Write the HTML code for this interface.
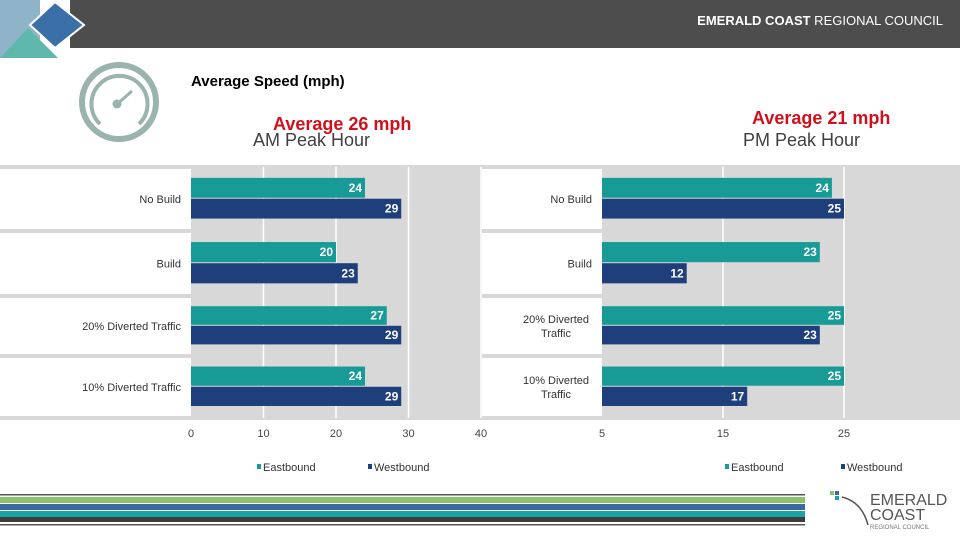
<!DOCTYPE html>
<html><head><meta charset="utf-8"><style>
body{margin:0;width:960px;height:540px;overflow:hidden;background:#fff;font-family:"Liberation Sans",sans-serif}
svg{display:block}
</style></head><body>
<svg id="s" width="960" height="540" xmlns="http://www.w3.org/2000/svg">
<rect x="0" y="0" width="960" height="48" fill="#4d4d4d"/>
<rect x="0" y="0" width="70" height="58" fill="#fff"/>
<rect x="0" y="0" width="40" height="58" fill="#8fb4c9"/>
<polygon points="0,58 28,28 58,58" fill="#5fb8ac"/>
<polygon points="55,2 84,25 55,48 30,25" fill="#3a6fa8" stroke="#fff" stroke-width="2"/>
<text x="943" y="25" text-anchor="end" font-size="13" fill="#fff"><tspan font-weight="bold">EMERALD COAST</tspan> REGIONAL COUNCIL</text>
<g fill="none" stroke="#9ab3ae">
<circle cx="119" cy="102" r="37" stroke-width="6"/>
<path d="M100,124 A28,28 0 1 1 139,124" stroke-width="4"/>
<line x1="115" y1="106" x2="132" y2="91" stroke-width="3"/>
<circle cx="117" cy="104" r="4" fill="#9ab3ae"/>
</g>
<text x="191" y="86" font-size="15" font-weight="bold" fill="#000">Average Speed (mph)</text>
<text x="273" y="130" font-size="18" font-weight="bold" fill="#d0101a">Average 26 mph</text>
<text x="253" y="146" font-size="18" fill="#404040">AM Peak Hour</text>
<text x="752" y="124" font-size="18" font-weight="bold" fill="#d0101a">Average 21 mph</text>
<text x="743" y="146" font-size="18" fill="#404040">PM Peak Hour</text>
<rect x="0" y="165" width="960" height="255" fill="#d8d8d8"/>
<g id="am"></g>
<g id="pm"></g>
<g>
<rect x="0" y="494" width="805" height="1.5" fill="#555"/>
<rect x="0" y="497" width="805" height="6" fill="#8cc06a"/>
<rect x="0" y="504" width="805" height="6" fill="#3b6a9a"/>
<rect x="0" y="511" width="805" height="6" fill="#1aa3a3"/>
<rect x="0" y="517" width="805" height="5" fill="#3d3d3d"/>
<rect x="0" y="524" width="805" height="1.5" fill="#555"/>
</g>
<g>
<rect x="830" y="491" width="4" height="4" fill="#8cc06a"/><rect x="835" y="491" width="4" height="4" fill="#3b6a9a"/><rect x="835" y="496" width="4" height="4" fill="#1aa3a3"/>
<path d="M842,497 Q862,502 868,525" fill="none" stroke="#555" stroke-width="1.5"/>
<text x="870" y="505" font-size="16" fill="#555">EMERALD</text>
<text x="870" y="520" font-size="16" fill="#555">COAST</text>
<text x="870" y="529" font-size="6" fill="#777">REGIONAL COUNCIL</text>
</g>
</svg>
<script>
const categories=["No Build","Build","20% Diverted Traffic","10% Diverted Traffic"];
const pmCategories=[["No Build"],["Build"],["20% Diverted","Traffic"],["10% Diverted","Traffic"]];
const amEast=[24,20,27,24];
const amWest=[29,23,29,29];
const pmEast=[24,23,25,25];
const pmWest=[25,12,23,17];
const amTicks=[0,10,20,30,40];
const pmTicks=[5,15,25];
const NS="http://www.w3.org/2000/svg";
function mk(p,t,a){const e=document.createElementNS(NS,t);for(const k in a)e.setAttribute(k,a[k]);p.appendChild(e);return e;}
function chart(g,labX0,labX1,x0,x1,min,max,ticks,grid,cats,east,west,legX){
  const sx=v=>x0+(v-min)/(max-min)*(x1-x0);
  const rowT=[167,231,296,356],rowB=[231,296,356,418];
  mk(g,'rect',{x:labX0,y:168,width:labX1-labX0,height:249,fill:'#fff'});
  [167,231,296,356,418].forEach(y=>mk(g,'rect',{x:labX0,y:y-2,width:labX1-labX0,height:4,fill:'#d8d8d8'}));
  grid.forEach(v=>{const l=mk(g,'line',{x1:sx(v),x2:sx(v),y1:167,y2:418,stroke:'#fff','stroke-width':1.5});
    
    });
  ticks.forEach(v=>{const t=mk(g,'text',{x:sx(v),y:437,'text-anchor':'middle','font-size':11,fill:'#444'});t.textContent=v;
    
    });
  cats.forEach((c,i)=>{
    const top=rowT[i],h=rowB[i]-rowT[i];
    const yE=top+h*0.17,bh=h*0.31;
    const lines=Array.isArray(c)?c:[c];
    const cy=top+h/2-(lines.length-1)*7+4;
    lines.forEach((ln,j)=>{const t=mk(g,'text',{x:labX1-10,y:cy+j*14,'text-anchor':Array.isArray(c)&&lines.length>1?'middle':'end','font-size':11,fill:'#333'});
      if(lines.length>1)t.setAttribute('x',labX1-46);
      t.textContent=ln;
      
      });
    [[east[i],'#189b96',yE],[west[i],'#1f3f7c',yE+bh+1]].forEach(([v,col,y])=>{
      const r=mk(g,'rect',{x:x0,y:y,width:sx(v)-x0,height:bh,fill:col});
      
      
      const t=mk(g,'text',{x:sx(v)-3,y:y+bh/2+4,'text-anchor':'end','font-size':12,'font-weight':'bold',fill:'#fff'});t.textContent=v;
      
      
    });
  });
  [['Eastbound','#189b96',legX[0]],['Westbound','#1f3f7c',legX[1]]].forEach(([n,col,x])=>{
    const lg=mk(g,'g',{});
    
    
    mk(lg,'rect',{x:x,y:464,width:4,height:5,fill:col});
    const t=mk(lg,'text',{x:x+6,y:471,'font-size':11,fill:'#333'});t.textContent=n;
  });
}
chart(document.getElementById('am'),0,191,191,481,0,40,amTicks,[10,20,30,40],categories,amEast,amWest,[257,368]);
chart(document.getElementById('pm'),482,602,602,844,5,25,pmTicks,[15,25],pmCategories,pmEast,pmWest,[725,841]);
</script>
</body></html>
